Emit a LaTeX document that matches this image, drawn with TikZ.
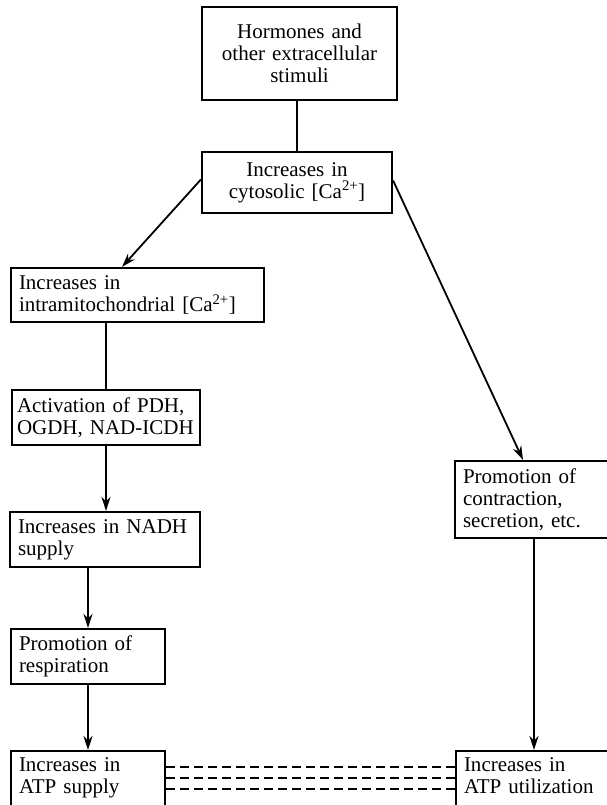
\documentclass[tikz,border=0pt]{standalone}
\usepackage{fontspec}
\setmainfont{Liberation Serif}
\usetikzlibrary{arrows.meta}
\begin{document}
\begin{tikzpicture}[x=1pt,y=-1pt,
  box/.style={draw, line width=2.2pt, inner xsep=8pt, inner ysep=0pt, align=left,
    font=\fontsize{21}{22}\selectfont},
  openbox/.style={box, anchor=north, inner ysep=6pt, text depth=30pt},
  link/.style={line width=2.2pt},
  arr/.style={line width=2.2pt, -{Stealth[length=14pt,width=9pt]}},
  diag/.style={line width=1.8pt, -{Stealth[length=14pt,width=9pt]}},
  dashline/.style={line width=1.8pt, dash pattern=on 9pt off 5pt}
]
\useasboundingbox (0,0) rectangle (606,805);

\node[box, align=center, text width=179pt, minimum height=93pt] (h) at (299.5,53.5)
  {Hormones and\\other extracellular\\stimuli};
\node[box, align=center, text width=174pt, minimum height=61pt] (c) at (297,182.5)
  {Increases in\\cytosolic [Ca\textsuperscript{2+}]};
\node[box, text width=237pt, minimum height=54pt] (im) at (137.5,295)
  {Increases in\\intramitochondrial [Ca\textsuperscript{2+}]};
\node[box, text width=178pt, inner xsep=5pt, minimum height=55pt] (act) at (106,417.5)
  {Activation of PDH,\\OGDH, NAD-ICDH};
\node[box, text width=174pt, minimum height=55pt] (nadh) at (105,539.5)
  {Increases in NADH\\supply};
\node[box, text width=138pt, minimum height=55pt] (resp) at (88,656.5)
  {Promotion of\\respiration};
\node[openbox, text width=138pt] (atps) at (88,750)
  {Increases in\\ATP supply};
\node[box, text width=149pt, minimum height=77pt] (prom) at (537.5,499.5)
  {Promotion of\\contraction,\\secretion, etc.};
\node[openbox, text width=148pt] (atpu) at (538,750)
  {Increases in\\ATP utilization};

\draw[link] (c.north |- h.south) -- (c.north);
\draw[diag] ([yshift=3pt]c.west) -- ([xshift=-15.5pt]im.north);
\draw[diag] ([yshift=2pt]c.east) -- ([xshift=-14.5pt]prom.north);
\draw[link] (act.north |- im.south) -- (act.north);
\draw[arr] (act.south) -- (act.south |- nadh.north);
\draw[arr] (resp.north |- nadh.south) -- (resp.north);
\draw[arr] (resp.south) -- (atps.north);
\draw[diag] ([xshift=-3.5pt]prom.south) -- ([xshift=-3.5pt]prom.south |- atpu.north);

\coordinate (d1) at ([yshift=-17pt]atps.north east);
\coordinate (d2) at ([yshift=-28pt]atps.north east);
\coordinate (d3) at ([yshift=-39pt]atps.north east);
\draw[dashline] (d1) -- (d1 -| atpu.west);
\draw[dashline] (d2) -- (d2 -| atpu.west);
\draw[dashline] (d3) -- (d3 -| atpu.west);
\end{tikzpicture}
\end{document}
